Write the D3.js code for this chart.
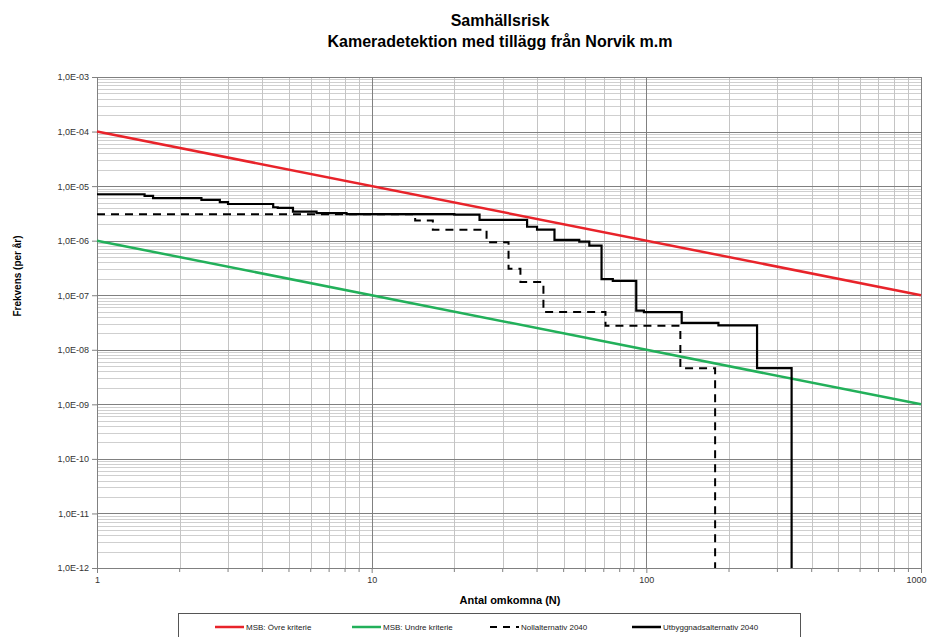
<!DOCTYPE html>
<html>
<head>
<meta charset="utf-8">
<script src="https://cdnjs.cloudflare.com/ajax/libs/d3/7.8.5/d3.min.js"></script>
<style>
  body { margin: 0; background: #fff; }
  svg { font-family: "Liberation Sans", Arial, sans-serif; }
</style>
</head>
<body>
<div id="chart"></div>
<script>
  // kriterielinjer (MSB)
  var criteriaN = [1, 1000];
  var upperCriteria = [1e-4, 1e-7];
  var lowerCriteria = [1e-6, 1e-9];

  // Utbyggnadsalternativ 2040 (trappsteg)
  var utbyggnadN = [1, 1.49, 1.6, 2.4, 2.8, 3.0, 4.38, 4.55, 5.17, 6.3, 8.1, 20, 24.7, 36.8, 40, 46.3, 57, 62, 68.7, 75.5, 91.9, 98, 134.5, 183, 253, 338];
  var utbyggnadF = [7.1e-6, 6.6e-6, 6.0e-6, 5.6e-6, 5.1e-6, 4.7e-6, 4.1e-6, 4.0e-6, 3.4e-6, 3.2e-6, 3.07e-6, 3.0e-6, 2.4e-6, 1.8e-6, 1.6e-6, 1.03e-6, 9.6e-7, 8.1e-7, 1.97e-7, 1.84e-7, 5.2e-8, 4.9e-8, 3.1e-8, 2.8e-8, 4.6e-9, 1e-12];

  // Nollalternativ 2040 (trappsteg)
  var nollN = [1, 14.4, 16.7, 26.2, 31.5, 34.8, 42.2, 71, 133, 178];
  var nollF = [3.05e-6, 2.35e-6, 1.58e-6, 9.4e-7, 3.05e-7, 1.74e-7, 4.9e-8, 2.75e-8, 4.6e-9, 1e-12];

  var xTicks = [1, 10, 100, 1000];
  var yTicks = [1e-12, 1e-11, 1e-10, 1e-9, 1e-8, 1e-7, 1e-6, 1e-5, 1e-4, 1e-3];

  var legendItems = [
    { label: "MSB: Övre kriterie", color: "#e8232a", dash: null },
    { label: "MSB: Undre kriterie", color: "#22b05a", dash: null },
    { label: "Nollalternativ 2040", color: "#000", dash: "7,6" },
    { label: "Utbyggnadsalternativ 2040", color: "#000", dash: null }
  ];

  var width = 928, height = 637;
  var margin = { top: 77, right: 7, bottom: 69, left: 97 };
  var plotW = width - margin.left - margin.right;
  var plotH = height - margin.top - margin.bottom;

  var svg = d3.select("#chart").append("svg")
    .attr("width", width)
    .attr("height", height);

  var x = d3.scaleLog().domain([1, 1000]).range([0, plotW]);
  var y = d3.scaleLog().domain([1e-12, 1e-3]).range([plotH, 0]);

  var g = svg.append("g")
    .attr("transform", "translate(" + margin.left + "," + margin.top + ")");

  // minor values 2..9 per decade
  var minorX = [], minorY = [];
  for (var d = 0; d < 3; d++) {
    for (var k = 2; k <= 9; k++) minorX.push(k * Math.pow(10, d));
  }
  for (var e = -12; e < -3; e++) {
    for (var k2 = 2; k2 <= 9; k2++) minorY.push(k2 * Math.pow(10, e));
  }

  g.selectAll(".minor-y").data(minorY).enter().append("line")
    .attr("x1", 0).attr("x2", plotW)
    .attr("y1", function(v) { return Math.round(y(v)) + 0.5; })
    .attr("y2", function(v) { return Math.round(y(v)) + 0.5; })
    .attr("stroke", "#cfcfcf").attr("stroke-width", 1);

  g.selectAll(".minor-x").data(minorX).enter().append("line")
    .attr("y1", 0).attr("y2", plotH)
    .attr("x1", function(v) { return Math.round(x(v)) + 0.5; })
    .attr("x2", function(v) { return Math.round(x(v)) + 0.5; })
    .attr("stroke", "#c4c4c4").attr("stroke-width", 1);

  g.selectAll(".major-y").data(yTicks).enter().append("line")
    .attr("x1", 0).attr("x2", plotW)
    .attr("y1", function(v) { return Math.round(y(v)) + 0.5; })
    .attr("y2", function(v) { return Math.round(y(v)) + 0.5; })
    .attr("stroke", "#808080").attr("stroke-width", 1);

  g.selectAll(".major-x").data(xTicks).enter().append("line")
    .attr("y1", 0).attr("y2", plotH)
    .attr("x1", function(v) { return Math.round(x(v)) + 0.5; })
    .attr("x2", function(v) { return Math.round(x(v)) + 0.5; })
    .attr("stroke", "#808080").attr("stroke-width", 1);

  // axes
  var fmtY = function(v) {
    var exp = Math.round(Math.log10(v));
    return "1,0E-" + (Math.abs(exp) < 10 ? "0" : "") + Math.abs(exp);
  };

  var yAxis = g.append("g")
    .call(d3.axisLeft(y).tickValues(yTicks).tickFormat(fmtY).tickSize(5).tickPadding(3));
  var xAxis = g.append("g")
    .attr("transform", "translate(0," + plotH + ")")
    .call(d3.axisBottom(x).tickValues(xTicks).tickFormat(d3.format("d")).tickSize(5).tickPadding(4));

  // last label sits at the right edge
  xAxis.selectAll(".tick text")
    .filter(function(v) { return v === 1000; })
    .attr("text-anchor", "end").attr("dx", 5);

  g.append("g")
    .attr("transform", "translate(0," + plotH + ")")
    .selectAll("line").data(minorX).enter().append("line")
    .attr("x1", function(v) { return x(v); }).attr("x2", function(v) { return x(v); })
    .attr("y1", 0).attr("y2", 4).attr("stroke", "#808080");

  [yAxis, xAxis].forEach(function(a) {
    a.select(".domain").attr("stroke", "#808080");
    a.selectAll(".tick line").attr("stroke", "#808080");
    a.selectAll("text").attr("font-size", 9).attr("fill", "#333")
      .attr("font-family", "Liberation Sans, Arial, sans-serif");
  });

  // criteria lines
  var line = d3.line()
    .x(function(p) { return x(p[0]); })
    .y(function(p) { return y(p[1]); });

  g.append("path")
    .attr("d", line(d3.zip(criteriaN, upperCriteria)))
    .attr("fill", "none").attr("stroke", legendItems[0].color).attr("stroke-width", 2.5);
  g.append("path")
    .attr("d", line(d3.zip(criteriaN, lowerCriteria)))
    .attr("fill", "none").attr("stroke", legendItems[1].color).attr("stroke-width", 2.5);

  var stepLine = d3.line()
    .x(function(p) { return x(p[0]); })
    .y(function(p) { return y(p[1]); })
    .curve(d3.curveStepAfter);

  g.append("path")
    .attr("d", stepLine(d3.zip(nollN, nollF)))
    .attr("fill", "none").attr("stroke", "#000").attr("stroke-width", 2)
    .attr("stroke-dasharray", "8,6");
  g.append("path")
    .attr("d", stepLine(d3.zip(utbyggnadN, utbyggnadF)))
    .attr("fill", "none").attr("stroke", "#000").attr("stroke-width", 2.2);

  // titles
  svg.append("text")
    .attr("x", 500).attr("y", 26)
    .attr("text-anchor", "middle")
    .attr("font-size", 16).attr("font-weight", "bold")
    .text("Samhällsrisk");
  svg.append("text")
    .attr("x", 500).attr("y", 47)
    .attr("text-anchor", "middle")
    .attr("font-size", 16).attr("font-weight", "bold")
    .text("Kameradetektion med tillägg från Norvik m.m");

  svg.append("text")
    .attr("x", 510).attr("y", 604)
    .attr("text-anchor", "middle")
    .attr("font-size", 11).attr("font-weight", "bold")
    .text("Antal omkomna (N)");

  svg.append("text")
    .attr("transform", "translate(21,276) rotate(-90)")
    .attr("text-anchor", "middle")
    .attr("font-size", 10).attr("font-weight", "bold")
    .text("Frekvens (per år)");

  // legend
  var legend = svg.append("g");
  legend.append("rect")
    .attr("x", 178.5).attr("y", 613.5)
    .attr("width", 622).attr("height", 40)
    .attr("fill", "#fff").attr("stroke", "#555");

  var legendX = [215, 352, 490, 632];
  legendItems.forEach(function(item, i) {
    var lg = legend.append("g").attr("transform", "translate(" + legendX[i] + ",627)");
    lg.append("line")
      .attr("x1", 0).attr("x2", 29).attr("y1", 0).attr("y2", 0)
      .attr("stroke", item.color)
      .attr("stroke-width", item.dash ? 2 : 2.5)
      .attr("stroke-dasharray", item.dash);
    lg.append("text")
      .attr("x", 31).attr("y", 3)
      .attr("font-size", 8).attr("fill", "#222")
      .text(item.label);
  });
</script>
</body>
</html>
